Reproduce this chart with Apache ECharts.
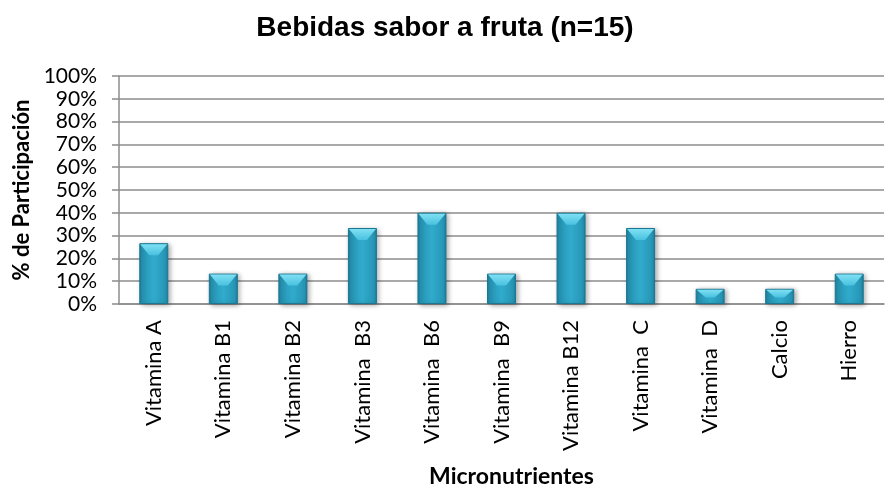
<!DOCTYPE html>
<html><head><meta charset="utf-8">
<script src="https://cdn.jsdelivr.net/npm/echarts@6/dist/echarts.min.js"></script>
<style>html,body{margin:0;padding:0;background:#fff}#c{width:891px;height:489px}</style>
</head><body><div id="c"></div>
<script>
var categories = ["Vitamina A","Vitamina B1","Vitamina B2","Vitamina  B3","Vitamina  B6","Vitamina  B9","Vitamina B12","Vitamina  C","Vitamina  D","Calcio","Hierro"];
var values = [26.67,13.33,13.33,33.33,40,13.33,40,33.33,6.67,6.67,13.33];
var yTicks = [0,10,20,30,40,50,60,70,80,90,100];

var chart = echarts.init(document.getElementById('c'));
var lab = 'Lato, "Open Sans", sans-serif';
var BW = 29;
chart.setOption({
  animation:false,
  title:{text:'Bebidas sabor a fruta (n=15)',left:440,textAlign:'center',top:9,
    textStyle:{fontFamily:'"Liberation Sans", Arial, sans-serif',fontWeight:'bold',fontSize:28,color:'#000'}},
  grid:{left:119,right:7,top:76,bottom:183},
  xAxis:{type:'category',data:categories,
    axisLine:{lineStyle:{color:'#8c8c8c',width:1.5}},
    axisTick:{show:false},
    axisLabel:{rotate:90,fontSize:22,color:'#000',fontFamily:lab,margin:16,interval:0},
    name:'Micronutrientes',nameLocation:'middle',nameGap:161,
    nameTextStyle:{fontFamily:lab,fontWeight:'bold',fontSize:23,color:'#000',padding:[0,0,0,20]}},
  yAxis:{type:'value',min:0,max:100,interval:10,
    axisLine:{show:true,lineStyle:{color:'#8c8c8c',width:1.5}},
    axisTick:{show:true,inside:false,length:7,lineStyle:{color:'#8c8c8c',width:1.5}},
    splitLine:{lineStyle:{color:'#8c8c8c',width:1.5}},
    axisLabel:{fontSize:21,color:'#000',fontFamily:lab,margin:22,
      formatter:function(v){return yTicks.indexOf(v)>=0? v+'%':'';}},
    name:'% de Participación',nameLocation:'middle',nameGap:82,nameRotate:90,
    nameTextStyle:{fontFamily:lab,fontWeight:'bold',fontSize:22,color:'#000'}},
  series:[{type:'bar',data:values,barWidth:BW,z:2,
    itemStyle:{
      color:new echarts.graphic.LinearGradient(0,0,1,0,[
        {offset:0,color:'#1a7d99'},{offset:0.1,color:'#2796b6'},
        {offset:0.5,color:'#31abcc'},{offset:0.9,color:'#2796b6'},{offset:1,color:'#1a7d99'}]),
      borderColor:'#1b7893',borderWidth:1,
      shadowColor:'rgba(0,0,0,0.35)',shadowBlur:5,shadowOffsetX:2,shadowOffsetY:1}
  },{
    type:'custom',z:3,silent:true,
    data:values.map(function(v,i){return [i,v];}),
    renderItem:function(params,api){
      var top = api.coord([api.value(0),api.value(1)]);
      var base = api.coord([api.value(0),0]);
      var h = base[1]-top[1];
      var d = Math.min(11,h*0.5);
      var x0 = top[0]-BW/2+1, x1 = top[0]+BW/2-1, y0 = top[1]+1;
      return {type:'polygon',shape:{points:[[x0,y0],[x1,y0],[x1-9,y0+d],[x0+9,y0+d]]},
        style:{fill:new echarts.graphic.LinearGradient(0,0,0,1,[
          {offset:0,color:'#7fe0f4'},{offset:1,color:'#48c1df'}])}};
    }
  }]
});
</script></body></html>
